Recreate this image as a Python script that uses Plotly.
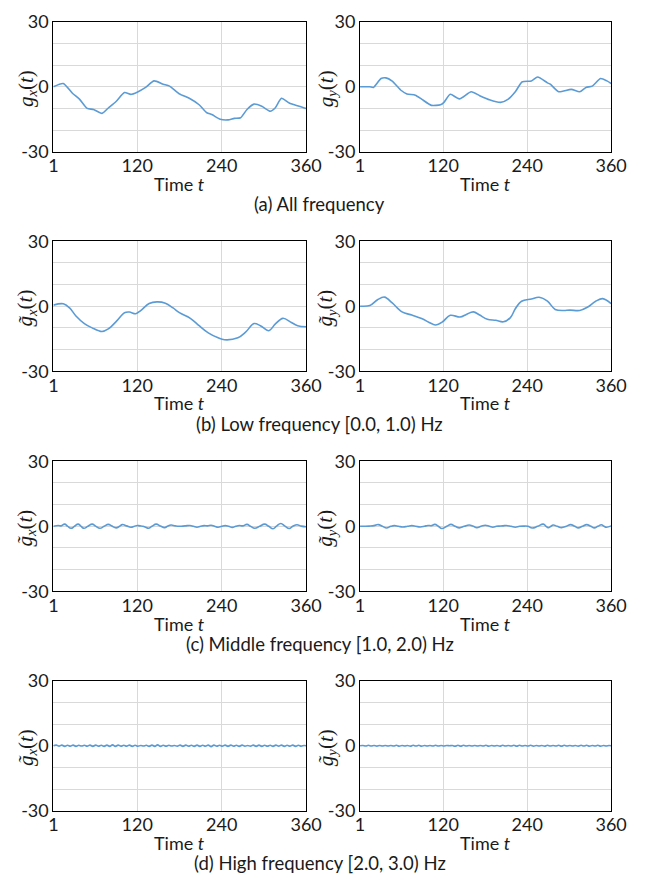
import plotly.graph_objects as go

# ---------------- data ----------------
tick_vals_x = [1, 120, 240, 360]
tick_text_x = ["1", "120", "240", "360"]
tick_vals_y = [-30, 0, 30]
tick_text_y = ["-30", "0", "30"]

# (a) All frequency
all_x_t = [1, 15, 28, 38, 49, 58, 70, 79, 90, 102, 111, 120, 132, 144, 157, 166, 180, 194,
           208, 219, 226, 238, 249, 258, 267, 276, 286, 297, 309, 316, 325, 336, 350, 360]
all_x_v = [0, 1.5, -3, -5.7, -10, -10.5, -12.3, -9.8, -6.8, -2.7, -3.5, -2.5, -0.3, 2.7, 1.2,
           0.3, -3.3, -5.3, -8.3, -12, -12.8, -15, -15.3, -14.6, -14.3, -10.5, -8, -9, -11.3,
           -9.8, -5.3, -7.5, -9, -10]
all_y_t = [1, 15, 20, 31, 38, 47, 59, 68, 80, 89, 103, 116, 121, 130, 143, 160, 172, 186,
           202, 213, 223, 233, 246, 255, 269, 273, 285, 303, 315, 324, 333, 345, 354, 360]
all_y_v = [0, 0, -0.3, 3.8, 4.1, 2.6, -1.5, -3.3, -3.9, -5.7, -8.6, -8.3, -7.2, -3.5, -5.6,
           -2.3, -4.1, -6, -7.2, -5.7, -2.3, 2.3, 2.7, 4.5, 1.8, 1.2, -2.3, -1.2, -2.3, -0.3,
           0.3, 3.8, 2.7, 1.5]

# (b) Low frequency
low_x_t = [1, 15, 24, 33, 45, 56, 70, 79, 91, 102, 109, 118, 125, 137, 148, 160, 171, 180,
           196, 208, 221, 235, 244, 263, 274, 286, 295, 307, 316, 327, 339, 348, 360]
low_x_v = [0.5, 1.1, -0.8, -4.5, -8, -10, -11.7, -10.5, -6.8, -3, -2.7, -3.5, -2, 1.2, 2,
           1.4, -0.8, -3, -5.7, -9, -12.3, -14.6, -15.5, -14.6, -12, -8, -9, -11.3, -8.3,
           -5.6, -7.5, -9, -9.5]
low_y_t = [1, 15, 26, 36, 47, 61, 75, 89, 103, 109, 119, 130, 144, 153, 163, 172, 183, 195,
           206, 216, 223, 232, 246, 257, 269, 280, 292, 301, 315, 326, 338, 348, 360]
low_y_v = [0, 0.3, 3, 4.2, 1.5, -2.6, -4.1, -5.7, -8, -8.7, -7.2, -4.2, -5, -3.8, -2.6,
           -4.1, -6, -6.5, -7.2, -5.3, -1.2, 2.3, 3.3, 4.1, 2.3, -1.5, -2, -1.8, -2, -0.5,
           2.3, 3.5, 1.2]

# (c) Middle frequency (peaks, troughs and crossings)
mid_x_t = [1, 8, 12, 17, 21, 26, 31, 36, 40, 44, 50, 56, 61, 67, 73, 79, 84, 90, 95, 99,
           105, 111, 116, 120, 124, 128, 132, 136, 141, 147, 153, 159, 163, 168, 174, 180,
           188, 195, 200, 205, 210, 215, 220, 225, 230, 235, 240, 245, 250, 255, 260, 265,
           270, 276, 281, 287, 294, 301, 307, 313, 318, 324, 330, 336, 341, 347, 353, 360]
mid_x_v = [0, 0.4, 0.2, 1.0, 0.1, -0.9, 0.0, 1.0, 0.1, -0.9, 0.0, 1.0, 0.1, -0.9, 0.0,
           0.9, 0.1, -0.7, 0.0, 0.8, 0.2, -0.4, 0.0, 0.4, 0.2, 0.0, -0.4, -0.9, 0.0, 1.0,
           0.1, -0.6, 0.0, 0.6, 0.2, 0.0, 0.2, 0.4, 0.0, -0.4, 0.0, 0.3, 0.2, 0.5, 0.0,
           -0.4, 0.0, 0.3, 0.0, -0.5, 0.0, 0.4, 0.2, 0.9, 0.0, -0.9, 0.0, 1.0, 0.0, -1.1,
           0.1, 1.3, 0.1, -1.0, 0.0, 0.7, 0.1, -0.2]
mid_y_t = [1, 14, 21, 27, 33, 39, 45, 50, 56, 62, 69, 75, 81, 87, 93, 98, 103, 108, 113,
           118, 125, 131, 137, 143, 150, 157, 163, 168, 174, 180, 186, 191, 196, 200, 205,
           210, 217, 223, 229, 235, 241, 247, 255, 263, 267, 270, 274, 277, 283, 289, 296,
           302, 308, 313, 319, 325, 331, 336, 341, 346, 350, 353, 360]
mid_y_v = [0, 0.1, 0.3, 0.8, 0.0, -0.8, 0.0, 0.3, 0.0, -0.3, 0.0, 0.3, 0.0, -0.3, 0.0,
           0.4, 0.3, 0.9, 0.0, -1.0, 0.0, 0.9, 0.0, -0.7, 0.0, 0.6, 0.0, -0.6, 0.0, 0.5,
           0.0, -0.4, 0.0, 0.1, 0.2, 0.4, 0.0, -0.4, 0.0, 0.1, 0.0, -0.8, 0.0, 1.0, 0.0,
           -0.6, 0.0, 0.6, 0.0, -0.6, 0.0, 0.8, 0.0, -0.7, 0.0, 0.8, 0.0, -0.7, 0.0, 0.7,
           0.0, -0.4, 0.2]

# (d) High frequency
high_t = list(range(1, 358, 4)) + [360]
high_x_v = [0, 0.3, -0.2, 0.3, -0.3, 0.2, -0.2, 0.3, -0.3, 0.2,
            -0.1, 0.2, -0.2, 0.3, -0.3, 0.3, -0.2, 0.2, -0.3, 0.3,
            -0.3, 0.4, -0.3, 0.3, -0.2, 0.2, -0.2, 0.3, -0.3, 0.2,
            -0.2, 0.1, -0.1, 0.2, -0.3, 0.3, -0.3, 0.4, -0.3, 0.2,
            -0.2, 0.2, -0.1, 0.1, -0.2, 0.3, -0.3, 0.3, -0.2, 0.2,
            -0.3, 0.3, -0.3, 0.2, -0.2, 0.3, -0.4, 0.3, -0.2, 0.2,
            -0.2, 0.3, -0.3, 0.3, -0.2, 0.2, -0.3, 0.3, -0.2, 0.1,
            -0.2, 0.3, -0.3, 0.3, -0.3, 0.2, -0.2, 0.2, -0.3, 0.3,
            -0.2, 0.3, -0.3, 0.2, -0.2, 0.3, -0.3, 0.2, -0.2, 0.1,
            0.0]
high_y_v = [0, 0.1, -0.1, 0.2, -0.1, 0.1, -0.2, 0.1, -0.1, 0.1,
            -0.1, 0.1, -0.1, 0.2, -0.2, 0.1, -0.1, 0.1, -0.2, 0.2,
            -0.1, 0.2, -0.2, 0.1, -0.1, 0.1, -0.1, 0.2, -0.1, 0.1,
            -0.1, 0.1, 0.0, 0.1, -0.2, 0.2, -0.2, 0.2, -0.1, 0.1,
            -0.1, 0.1, -0.1, 0.1, -0.1, 0.2, -0.2, 0.1, -0.1, 0.1,
            -0.2, 0.2, -0.1, 0.1, -0.1, 0.2, -0.2, 0.2, -0.1, 0.1,
            -0.1, 0.2, -0.2, 0.1, -0.1, 0.1, -0.2, 0.2, -0.1, 0.1,
            -0.1, 0.2, -0.2, 0.2, -0.1, 0.1, -0.1, 0.1, -0.2, 0.2,
            -0.1, 0.2, -0.2, 0.1, -0.1, 0.2, -0.2, 0.1, -0.1, 0.1,
            0.0]

captions = ["(a) All frequency", "(b) Low frequency [0.0, 1.0) Hz",
            "(c) Middle frequency [1.0, 2.0) Hz", "(d) High frequency [2.0, 3.0) Hz"]

# ---------------- layout ----------------
W, H = 661, 890
LINE = "#5B9BD5"
GRID = "#d9d9d9"
TXT = "#1a1a1a"
SANS = "Lato, 'Open Sans', sans-serif"
SERIF = "'Liberation Serif', 'DejaVu Serif', serif"

panels = [
    (all_x_t, all_x_v, all_y_t, all_y_v, 0.6, False),
    (low_x_t, low_x_v, low_y_t, low_y_v, 1.0, True),
    (mid_x_t, mid_x_v, mid_y_t, mid_y_v, 1.3, True),
    (high_t, high_x_v, high_t, high_y_v, 1.2, True),
]
col_x = [(50, 311), (366.7, 626)]
row_top = [10, 235, 460.7, 685.7]
plot_h = 133.3

fig = go.Figure()
layout = dict(width=W, height=H, margin=dict(l=0, r=0, t=0, b=0),
              paper_bgcolor="white", plot_bgcolor="white", showlegend=False,
              font=dict(family=SANS, color=TXT))
annotations = []


def px_x(p):
    return p / W


def px_y(p):
    return 1 - p / H


k = 0
for r, (tx, vx, ty, vy, smooth, tilde) in enumerate(panels):
    top = row_top[r]
    bot = top + plot_h
    for c in range(2):
        k += 1
        xs = "" if k == 1 else str(k)
        t_arr, v_arr = (tx, vx) if c == 0 else (ty, vy)
        fig.add_trace(go.Scatter(x=t_arr, y=v_arr, mode="lines",
                                 line=dict(color=LINE, width=1.6, shape="spline", smoothing=smooth),
                                 xaxis="x" + xs, yaxis="y" + xs, hoverinfo="skip"))
        x0, x1 = col_x[c]
        layout["xaxis" + xs] = dict(domain=[px_x(x0), px_x(x1)], anchor="y" + xs,
                                   range=[1, 360], tickvals=tick_vals_x, ticktext=tick_text_x,
                                   showgrid=True, gridcolor=GRID, gridwidth=1,
                                   showline=True, linecolor="black", linewidth=1.2, mirror=True,
                                   ticks="", zeroline=False, ticklabelstandoff=-2,
                                   tickfont=dict(size=18, family=SANS, color=TXT))
        layout["yaxis" + xs] = dict(domain=[px_y(bot), px_y(top)], anchor="x" + xs,
                                   range=[-30, 30], tickvals=tick_vals_y, ticktext=tick_text_y,
                                   showgrid=True, gridcolor=GRID, gridwidth=1,
                                   minor=dict(tick0=-30, dtick=10, showgrid=True,
                                              gridcolor=GRID, gridwidth=1, ticks=""),
                                   showline=True, linecolor="black", linewidth=1.2, mirror=True,
                                   ticks="", zeroline=False, ticklabelstandoff=0,
                                   tickfont=dict(size=18, family=SANS, color=TXT))
        annotations.append(dict(text="Time <i>t</i>", x=px_x((x0 + x1) / 2), y=px_y(bot + 33),
                                xref="paper", yref="paper", showarrow=False,
                                xanchor="center", yanchor="middle",
                                font=dict(size=18, family=SANS, color=TXT)))
        g = "<i>g\u0303</i>" if tilde else "<i>g</i>"
        sub = "x" if c == 0 else "y"
        ytxt = g + "<sub><i>" + sub + "</i></sub>(<i>t</i>)"
        annotations.append(dict(text=ytxt, x=px_x(22 if c == 0 else 332),
                                y=px_y((top + bot) / 2 + 2), textangle=-90,
                                xref="paper", yref="paper", showarrow=False,
                                xanchor="center", yanchor="middle",
                                font=dict(size=21, family=SERIF, color=TXT)))
    annotations.append(dict(text=captions[r], x=px_x(325), y=px_y(bot + 54),
                            xref="paper", yref="paper", showarrow=False,
                            xanchor="center", yanchor="middle",
                            font=dict(size=18.5, family=SANS, color=TXT)))

layout["annotations"] = annotations
fig.update_layout(**layout)
fig.write_html("out.html")
